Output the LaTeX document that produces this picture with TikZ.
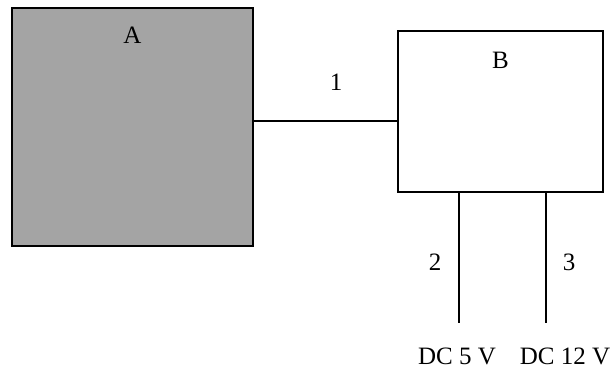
\documentclass[tikz,border=0pt]{standalone}
\usepackage{fontspec}
\setmainfont{Liberation Serif}
\usepackage{tikz}
\usetikzlibrary{positioning}
\definecolor{boxgray}{RGB}{164,164,164}

\tikzset{
	unitbox/.style={draw, line width=1.3bp, inner sep=0pt, outer sep=0pt},
	wire/.style={line width=1.3bp},
	tag/.style={inner sep=0pt, font=\fontsize{25bp}{30bp}\selectfont},
}

\begin{document}
\begin{tikzpicture}[x=1bp, y=-1bp]

\useasboundingbox (0,0) rectangle (612,383);

\node[unitbox, fill=boxgray, minimum width=241bp, minimum height=238bp] (A) at (132.5,127) {}; % box A
\node[unitbox, minimum width=205bp, minimum height=161bp] (B) at (500.5,111.5) {}; % box B

\node[tag, below=19bp of A.north, anchor=north] (A label) {A};
\node[tag, below=21bp of B.north, anchor=north] (B label) {B};

\coordinate (end 2) at (459,323);
\coordinate (end 3) at (546,323);

\draw[wire] (A.east |- 0,121) -- (B.west |- 0,121); % line 1
\draw[wire] (B.south -| end 2) -- (end 2); % line 2
\draw[wire] (B.south -| end 3) -- (end 3); % line 3

\node[tag] (wire 1) at (336,82) {1};
\node[tag] (wire 2) at (435,262) {2};
\node[tag] (wire 3) at (569,262) {3};

\node[tag] (dc 5)  at (457,356) {DC 5 V};
\node[tag] (dc 12) at (565,356) {DC 12 V};

\end{tikzpicture}
\end{document}
